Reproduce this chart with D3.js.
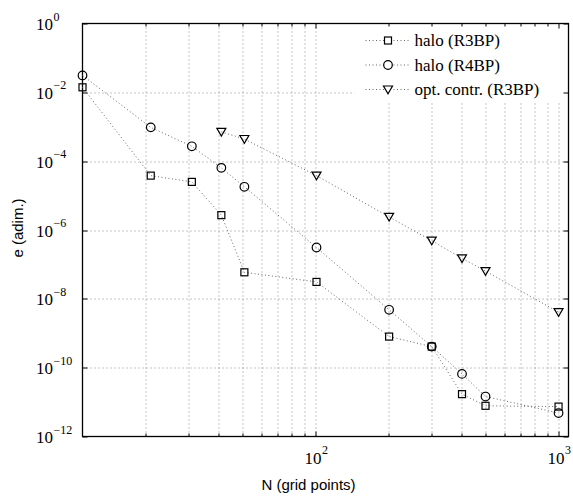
<!DOCTYPE html>
<html>
<head>
<meta charset="utf-8">
<script src="https://cdn.jsdelivr.net/npm/d3@7"></script>
<style>
  body { margin: 0; background: #fff; }
  #chart { width: 573px; height: 497px; }
</style>
</head>
<body>
<div id="chart"></div>
<script>
// grid sizes (N) and errors
const gridN = [11, 21, 31, 41, 51, 101, 201, 301, 401, 501, 1001];
const haloR3BP = [1.4e-2, 3.8e-5, 2.5e-5, 2.7e-6, 5.9e-8, 3.1e-8, 8.0e-10, 4.1e-10, 1.7e-11, 7.8e-12, 7.4e-12];
const haloR4BP = [3.1e-2, 9.6e-4, 2.7e-4, 6.4e-5, 1.8e-5, 3.1e-7, 4.8e-9, 4.1e-10, 6.6e-11, 1.45e-11, 4.8e-12];
const optN = [41, 51, 101, 201, 301, 401, 501, 1001];
const optR3BP = [7.1e-4, 4.4e-4, 3.8e-5, 2.4e-6, 4.9e-7, 1.5e-7, 6.4e-8, 4.1e-9];

const seriesNames = ['halo (R3BP)', 'halo (R4BP)', 'opt. contr. (R3BP)'];
const seriesMarkers = ['square', 'circle', 'triangle'];

const xTickExp = [2, 3];
const yTickExp = [0, -2, -4, -6, -8, -10, -12];

const margin = { top: 23.5, left: 82.5 };
const width = 486;
const height = 413;

const svg = d3.select('#chart')
  .append('svg')
  .attr('width', 573)
  .attr('height', 497)
  .append('g')
  .attr('transform', `translate(${margin.left},${margin.top})`);

const x = d3.scaleLog().domain([11, 1100]).range([0, width]);
const y = d3.scaleLog().domain([1e-12, 1]).range([height, 0]);

// minor x positions 20..90, 200..900, 1000
const xMinor = [];
[10, 100].forEach(d => { for (let k = 1; k <= 9; k++) { const v = d * k; if (v > 11) xMinor.push(v); } });
xMinor.push(1000);
const xMajor = xTickExp.map(e => Math.pow(10, e));
const yMajor = yTickExp.map(e => Math.pow(10, e));

const gridStyle = g => g.attr('stroke', '#8a8a8a').attr('stroke-width', 1).attr('stroke-dasharray', '1,3');

// vertical grid
svg.append('g').call(gridStyle)
  .selectAll('line').data(xMinor).enter().append('line')
  .attr('x1', d => Math.round(x(d)) + 0.5).attr('x2', d => Math.round(x(d)) + 0.5)
  .attr('y1', 0).attr('y2', height);

// horizontal grid
svg.append('g').call(gridStyle)
  .selectAll('line').data(yMajor.filter(d => d < 1 && d > 1e-12)).enter().append('line')
  .attr('y1', d => Math.round(y(d)) + 0.5).attr('y2', d => Math.round(y(d)) + 0.5)
  .attr('x1', 0).attr('x2', width);

// legend background hides the grid behind it
const legendX = 272;
svg.append('rect')
  .attr('x', legendX).attr('y', 0)
  .attr('width', width - legendX).attr('height', 79)
  .attr('fill', '#fff');

// ticks on all four sides, pointing inward
const ticks = svg.append('g').attr('stroke', '#000').attr('stroke-width', 1);
xMinor.forEach(v => {
  const len = xMajor.includes(v) ? 5 : 3;
  const px = Math.round(x(v)) + 0.5;
  ticks.append('line').attr('x1', px).attr('x2', px).attr('y1', height).attr('y2', height - len);
  ticks.append('line').attr('x1', px).attr('x2', px).attr('y1', 0).attr('y2', len);
});
yMajor.forEach(v => {
  const py = Math.round(y(v)) + 0.5;
  ticks.append('line').attr('x1', 0).attr('x2', 5).attr('y1', py).attr('y2', py);
  ticks.append('line').attr('x1', width).attr('x2', width - 5).attr('y1', py).attr('y2', py);
});

// frame
svg.append('rect')
  .attr('width', width).attr('height', height)
  .attr('fill', 'none').attr('stroke', '#000').attr('stroke-width', 1.3);

// tick labels (10 with superscript exponent)
const serif = "'Liberation Serif', 'Times New Roman', serif";
yTickExp.forEach(e => {
  const py = y(Math.pow(10, e));
  const t = svg.append('text')
    .attr('font-family', serif).attr('fill', '#000');
  t.append('tspan').attr('x', -29.5).attr('y', py + 6.5)
    .attr('text-anchor', 'end').attr('font-size', 17).text('10');
  svg.append('text').attr('font-family', serif).attr('fill', '#000')
    .attr('x', -29).attr('y', py - 3).attr('font-size', 12)
    .text(e === 0 ? '0' : '\u2212' + Math.abs(e));
});
xTickExp.forEach(e => {
  const px = x(Math.pow(10, e));
  svg.append('text').attr('font-family', serif).attr('fill', '#000')
    .attr('x', px + 6).attr('y', height + 27).attr('text-anchor', 'end')
    .attr('font-size', 17).text('10');
  svg.append('text').attr('font-family', serif).attr('fill', '#000')
    .attr('x', px + 6.5).attr('y', height + 17).attr('font-size', 12)
    .text(e);
});

// axis titles
const sans = "'Liberation Sans', Arial, sans-serif";
svg.append('text')
  .attr('x', 226).attr('y', height + 53)
  .attr('text-anchor', 'middle')
  .attr('font-family', sans).attr('font-size', 15)
  .text('N (grid points)');
svg.append('text')
  .attr('transform', `translate(-60,${height / 2 - 2}) rotate(-90)`)
  .attr('text-anchor', 'middle')
  .attr('font-family', sans).attr('font-size', 15)
  .text('e (adim.)');

// markers
function drawMarker(g, type, cx, cy) {
  if (type === 'square') {
    g.append('rect').attr('x', cx - 3.5).attr('y', cy - 3.5).attr('width', 7).attr('height', 7);
  } else if (type === 'circle') {
    g.append('circle').attr('cx', cx).attr('cy', cy).attr('r', 4.3);
  } else {
    g.append('path').attr('d', `M${cx - 4.5},${cy - 3.5}L${cx + 4.5},${cy - 3.5}L${cx},${cy + 4.2}Z`);
  }
}

const series = [
  { xs: gridN, ys: haloR3BP },
  { xs: gridN, ys: haloR4BP },
  { xs: optN, ys: optR3BP }
];

const line = d3.line().x(d => x(d[0])).y(d => y(d[1]));

series.forEach((s, i) => {
  const pts = s.xs.map((n, k) => [n, s.ys[k]]);
  svg.append('path')
    .datum(pts)
    .attr('fill', 'none')
    .attr('stroke', '#666')
    .attr('stroke-width', 1)
    .attr('stroke-dasharray', '1,2.5')
    .attr('d', line);
  const mg = svg.append('g').attr('fill', 'none').attr('stroke', '#000').attr('stroke-width', 1.2);
  pts.forEach(p => drawMarker(mg, seriesMarkers[i], x(p[0]), y(p[1])));
});

// legend
const legend = svg.append('g');
seriesNames.forEach((name, i) => {
  const ly = 17 + i * 24.5;
  legend.append('line')
    .attr('x1', 283).attr('x2', 326).attr('y1', ly).attr('y2', ly)
    .attr('stroke', '#666').attr('stroke-dasharray', '1,2.5');
  const mg = legend.append('g').attr('fill', '#fff').attr('stroke', '#000').attr('stroke-width', 1.2);
  drawMarker(mg, seriesMarkers[i], 305.5, ly);
  legend.append('text')
    .attr('x', 332).attr('y', ly + 5.5)
    .attr('font-family', serif).attr('font-size', 17)
    .text(name);
});
</script>
</body>
</html>
